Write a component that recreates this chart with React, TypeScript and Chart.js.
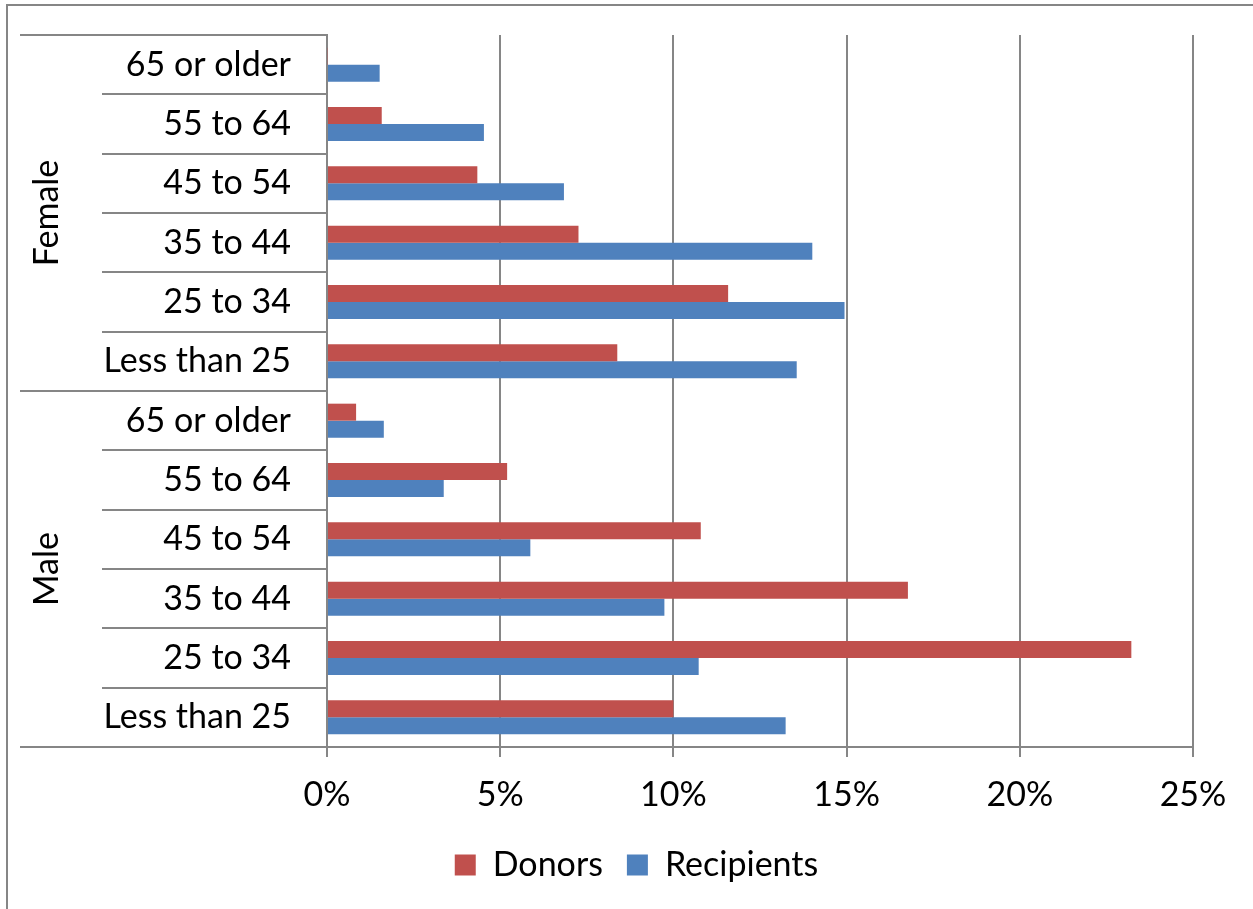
import React, { useEffect, useRef } from 'react';
import { Chart, registerables } from 'chart.js';

Chart.register(...registerables);

// ---- data ----
const groups = ['Female', 'Male'];
const ageGroups = ['65 or older', '55 to 64', '45 to 54', '35 to 44', '25 to 34', 'Less than 25'];
const donorsFemale = [0.02, 1.58, 4.34, 7.26, 11.58, 8.38];
const recipientsFemale = [1.52, 4.53, 6.84, 14.01, 14.94, 13.56];
const donorsMale = [0.84, 5.2, 10.79, 16.77, 23.22, 10.0];
const recipientsMale = [1.64, 3.37, 5.87, 9.74, 10.73, 13.24];
const seriesNames = ['Donors', 'Recipients'];
const seriesColors = ['#C0504D', '#4F81BD'];
const xMin = 0;
const xMax = 25;
const xStep = 5;

const labels = groups.flatMap(() => ageGroups);
const donors = [...donorsFemale, ...donorsMale];
const recipients = [...recipientsFemale, ...recipientsMale];

const FONT = 'Lato';
const FONT_SIZE = 34;
const GRAY = '#868686';

const groupPlugin = {
  id: 'groupLabels',
  afterDraw(chart: any) {
    const { ctx } = chart;
    const y = chart.scales.y;
    const n = chart.data.labels.length;
    const cw = (y.bottom - y.top) / n;
    const per = n / groups.length;
    ctx.save();
    ctx.strokeStyle = GRAY;
    ctx.lineWidth = 2;
    const x0 = 12;
    const x1 = chart.chartArea.left;
    for (let g = 0; g <= groups.length; g++) {
      const py = y.top + g * per * cw;
      ctx.beginPath();
      ctx.moveTo(x0, py);
      ctx.lineTo(x1, py);
      ctx.stroke();
    }
    ctx.fillStyle = '#000';
    ctx.font = `${FONT_SIZE}px ${FONT}`;
    ctx.textAlign = 'center';
    ctx.textBaseline = 'middle';
    groups.forEach((g, i) => {
      const cy = y.top + (i + 0.5) * per * cw;
      ctx.save();
      ctx.translate(39, cy);
      ctx.rotate(-Math.PI / 2);
      ctx.fillText(g, 0, 0);
      ctx.restore();
    });
    ctx.restore();
  },
};

export default function App() {
  const canvasRef = useRef<HTMLCanvasElement | null>(null);

  useEffect(() => {
    let chart: Chart | null = null;
    let cancelled = false;
    const make = () => {
      if (cancelled || !canvasRef.current) return;
      const font = { family: FONT, size: FONT_SIZE };
      chart = new Chart(canvasRef.current, {
        type: 'bar',
        data: {
          labels,
          datasets: [
            {
              label: seriesNames[0],
              data: donors,
              backgroundColor: seriesColors[0],
              categoryPercentage: 0.573,
              barPercentage: 1,
            },
            {
              label: seriesNames[1],
              data: recipients,
              backgroundColor: seriesColors[1],
              categoryPercentage: 0.573,
              barPercentage: 1,
            },
          ],
        },
        options: {
          indexAxis: 'y',
          responsive: true,
          maintainAspectRatio: false,
          animation: false,
          layout: { padding: { top: 29, left: 0, right: 0, bottom: 0 } },
          plugins: {
            legend: {
              position: 'bottom',
              labels: {
                font,
                color: '#000',
                boxWidth: 21,
                boxHeight: 21,
                padding: 24,
              },
            },
            tooltip: { enabled: false },
          },
          scales: {
            x: {
              min: xMin,
              max: xMax,
              ticks: {
                stepSize: xStep,
                callback: (v: any) => v + '%',
                font,
                color: '#000',
                padding: 18,
              },
              grid: { color: GRAY, lineWidth: 2, tickLength: 10, drawTicks: true },
              border: { color: GRAY, width: 2 },
              afterFit: (s: any) => {
                s.height = 77;
              },
            },
            y: {
              type: 'category',
              position: 'left',
              grid: {
                display: true,
                drawOnChartArea: false,
                drawTicks: true,
                tickLength: 225,
                offset: true,
                color: GRAY,
                lineWidth: 2,
              },
              border: { display: true, color: GRAY, width: 2 },
              ticks: { font, color: '#000', padding: -189, autoSkip: false },
              afterFit: (s: any) => {
                s.width = 319;
              },
            },
            yR: {
              axis: 'y',
              type: 'category',
              position: 'right',
              display: true,
              grid: { display: false },
              border: { display: false },
              ticks: { display: false },
              afterFit: (s: any) => {
                s.width = 72;
              },
            },
          },
        } as any,
        plugins: [groupPlugin],
      });
    };
    const fontsApi = (document as any).fonts;
    if (fontsApi && fontsApi.load) {
      fontsApi.load(`${FONT_SIZE}px ${FONT}`).then(make, make);
    } else {
      make();
    }
    return () => {
      cancelled = true;
      if (chart) chart.destroy();
    };
  }, []);

  return (
    <div
      style={{
        position: 'fixed',
        left: 0,
        top: 0,
        width: 1253,
        height: 909,
        overflow: 'hidden',
        background: '#fff',
      }}
    >
      <div
        style={{
          position: 'absolute',
          left: 6,
          top: 4,
          width: 1257,
          height: 940,
          borderLeft: `2px solid ${GRAY}`,
          borderTop: `2px solid ${GRAY}`,
        }}
      >
        <div style={{ position: 'relative', width: 1257, height: 886 }}>
          <canvas ref={canvasRef} />
        </div>
      </div>
    </div>
  );
}
